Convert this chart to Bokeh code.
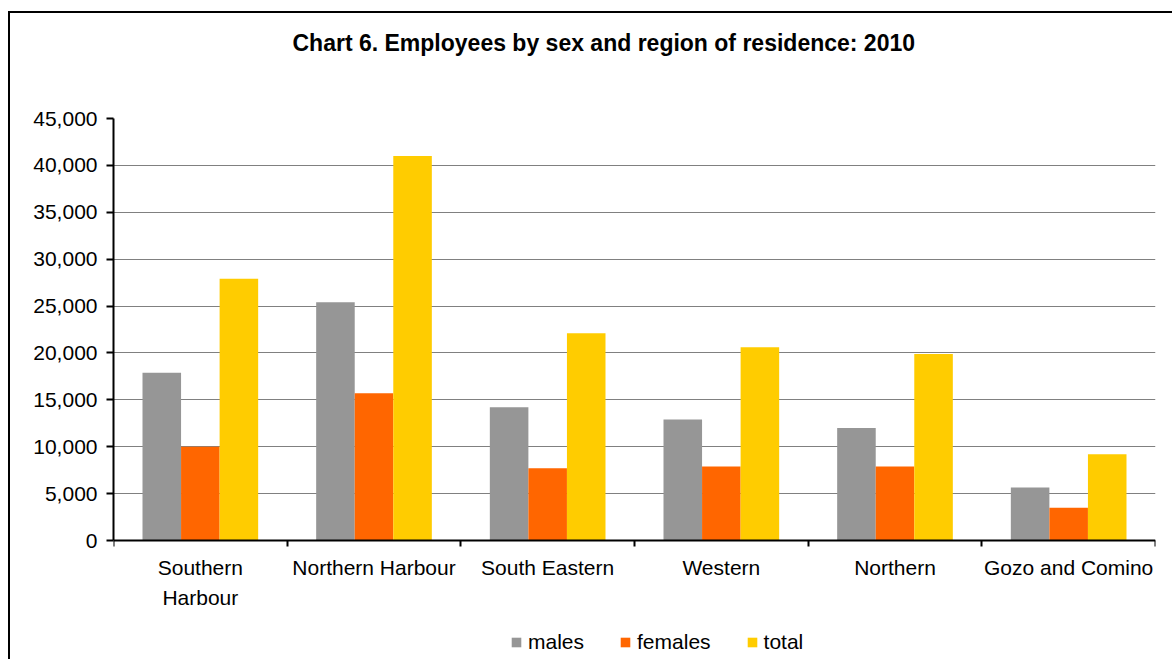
from bokeh.plotting import figure
from bokeh.models import (Range1d, FixedTicker, NumeralTickFormatter,
                          ColumnDataSource, Legend, LegendItem, Title)
from bokeh.transform import dodge
from bokeh.embed import file_html
from bokeh.resources import INLINE

# ---- data ----
categories = ["Southern\nHarbour", "Northern Harbour", "South Eastern", "Western", "Northern", "Gozo and Comino"]
males = [17900, 25400, 14200, 12900, 12000, 5650]
females = [10000, 15700, 7700, 7900, 7900, 3500]
total = [27900, 41000, 22100, 20600, 19900, 9200]
series_names = ["males", "females", "total"]
colors = ["#969696", "#FF6600", "#FFCC00"]
y_ticks = [0, 5000, 10000, 15000, 20000, 25000, 30000, 35000, 40000, 45000]
title_text = "Chart 6.  Employees by sex and region of residence: 2010"

FONT = "Liberation Sans"

n = len(categories)
centers = [i + 0.5 for i in range(n)]
source = ColumnDataSource(dict(x=centers, males=males, females=females, total=total))

# frame: 118..661 px tall; value 0 sits 121 px above the bottom (room for labels + legend)
y_max = 45000
px_per_unit = 422.0 / y_max
y_min = -121.0 / px_per_unit

p = figure(width=1164, height=648, x_range=Range1d(0, n), y_range=Range1d(y_min, y_max),
           output_backend="svg", toolbar_location=None,
           min_border_left=103, min_border_right=19, min_border_top=105, min_border_bottom=0)
p.styles = {"margin-left": "8px", "margin-top": "11px",
            "border-left": "2px solid black", "border-top": "2px solid black"}
p.outline_line_color = None
p.background_fill_color = "white"
p.border_fill_color = "white"

# real title, plus a spacer title between it and the frame
p.title.text = title_text
p.title.align = "left"
p.title.offset = 179
p.title.standoff = 0
p.title.text_font = FONT
p.title.text_font_size = "23px"
p.title.text_font_style = "bold"
p.title.text_color = "black"
p.add_layout(Title(text=" ", text_font_size="1px", standoff=60), "above")

# bars
bw = 0.222
offsets = [-bw, 0.0, bw]
renderers = []
for name, col, off in zip(series_names, colors, offsets):
    r = p.vbar(x=dodge("x", off, range=p.x_range), top=name, width=bw, bottom=0,
               source=source, fill_color=col, line_color=None)
    renderers.append(r)

# y axis
yax = p.yaxis[0]
yax.ticker = FixedTicker(ticks=y_ticks, minor_ticks=[])
yax.bounds = (0, y_max)
yax.formatter = NumeralTickFormatter(format="0,0")
yax.axis_line_width = 2
yax.axis_line_color = "black"
yax.major_tick_line_width = 2
yax.major_tick_line_color = "black"
yax.major_tick_out = 7
yax.major_tick_in = 0
yax.minor_tick_line_color = None
yax.major_label_text_font = FONT
yax.major_label_text_font_size = "21px"
yax.major_label_text_color = "black"
yax.major_label_standoff = 9

# x axis, drawn at value 0
xax = p.xaxis[0]
xax.fixed_location = 0
xax.ticker = FixedTicker(ticks=centers, minor_ticks=list(range(n + 1)))
xax.major_label_overrides = {c: lab for c, lab in zip(centers, categories)}
xax.axis_line_width = 2
xax.axis_line_color = "black"
xax.major_tick_line_color = None
xax.major_tick_out = 6
xax.major_tick_in = 0
xax.minor_tick_line_color = "black"
xax.minor_tick_line_width = 2
xax.minor_tick_out = 6
xax.minor_tick_in = 0
xax.major_label_text_font = FONT
xax.major_label_text_font_size = "21px"
xax.major_label_text_color = "black"
xax.major_label_text_line_height = 1.33
xax.major_label_standoff = 9

# grid
p.xgrid.grid_line_color = None
p.ygrid.grid_line_color = "#808080"
p.ygrid.grid_line_width = 1
p.ygrid.ticker = yax.ticker

# legend
legend = Legend(items=[LegendItem(label=nm, renderers=[r]) for nm, r in zip(series_names, renderers)],
                orientation="horizontal", location=(397, 7),
                glyph_width=12, glyph_height=12, label_standoff=6, spacing=35,
                padding=0, margin=0, border_line_color=None, background_fill_alpha=0,
                label_text_font=FONT, label_text_font_size="21px", label_text_color="black")
p.add_layout(legend)

open("out.html", "w").write(file_html(p, INLINE))
